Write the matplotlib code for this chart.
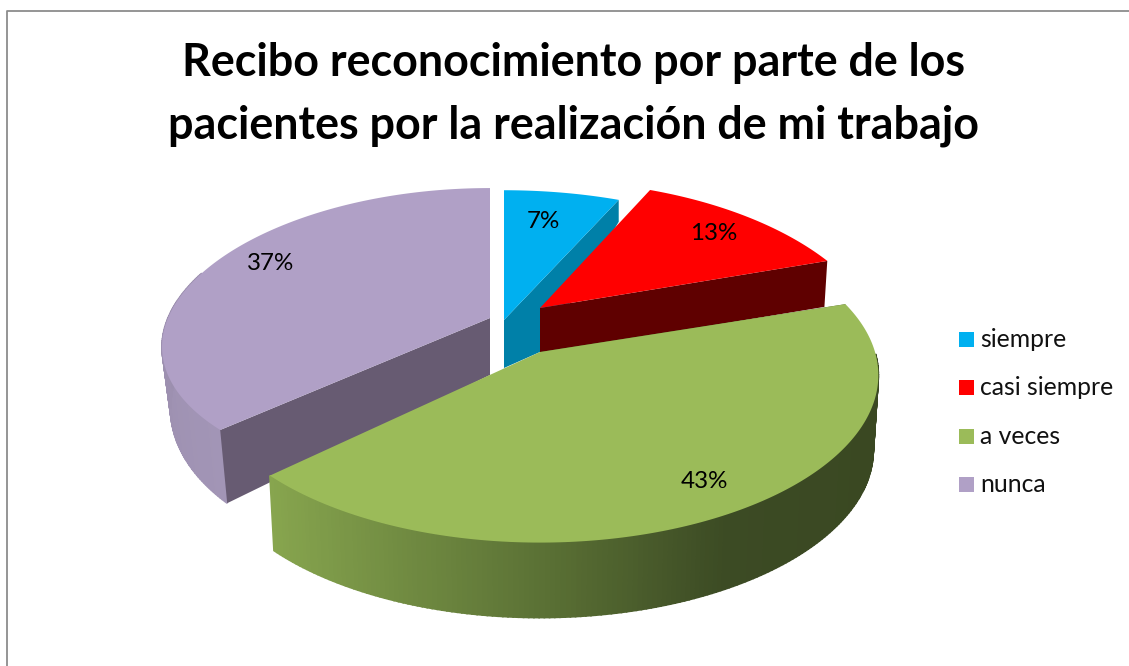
import numpy as np
import matplotlib
matplotlib.use('Agg')
import matplotlib.pyplot as plt
from matplotlib.colors import LinearSegmentedColormap
from matplotlib.patches import Polygon, Rectangle

categories = ['siempre', 'casi siempre', 'a veces', 'nunca']
values = [7, 13, 43, 37]
labels = ['7%', '13%', '43%', '37%']
colors = ['#00B0F0', '#FF0000', '#9BBB59', '#B0A0C6']
cut_colors = ['#0080A8', '#5F0000', '#4A5A2A', '#675B72']
# where each percent label sits, in pixels
label_pos = [(543, 221), (714, 232), (704, 480), (271, 262)]
# exploded slices: centre x, centre y, rx, ry, perspective x/y, depth, bottom scale x/y
slices = [
    (504, 320, 345, 170, 0.31, 0.31, 48, 1.0, 1.217),
    (540, 308, 331, 167, 0.31, 0.31, 46, 0.99, 1.0),
    (540, 352, 335, 162, 0.14, 0.15, 75, 0.985, 1.0),
    (490, 318, 322, 148, 0.19, 0.139, 57, 0.974, 1.145),
]

plt.rcParams['font.family'] = ['Lato', 'DejaVu Sans']

green_wall = LinearSegmentedColormap.from_list('g', ['#87A54E', '#6E8840', '#566B32', '#3C4B24', '#3A4822'])
purple_wall = LinearSegmentedColormap.from_list('p', ['#A295B6', '#8F829F'])


def top_edge(s, t):
    cx, cy, rx, ry, kx, ky = s[:6]
    X, Y = np.sin(t), np.cos(t)
    return cx + rx * X / (1 + kx * Y), cy - ry * Y / (1 + ky * Y)


def bottom_edge(s, t):
    x, y = top_edge(s, t)
    return s[0] + s[7] * (x - s[0]), s[1] + s[8] * (y - s[1]) + s[6]


fig = plt.figure(figsize=(11.29, 6.66), dpi=100)
ax = fig.add_axes([0, 0, 1, 1])
ax.set_xlim(0, 1129)
ax.set_ylim(666, 0)
ax.axis('off')

ax.plot([7, 7, 1129], [666, 11, 11], color='#8C8C8C', lw=1.3)

edges = np.cumsum([0] + values) / sum(values) * 2 * np.pi
for i in [3, 0, 1, 2]:
    s = slices[i]
    t = np.linspace(edges[i], edges[i + 1], 200)
    tx, ty = top_edge(s, t)
    bx, by = bottom_edge(s, t)
    if i in (2, 3):
        cmap = green_wall if i == 2 else purple_wall
        for j in range(len(t) - 1):
            # back part of the rim is hidden by the top face
            if i == 2 and t[j] < np.pi / 2:
                continue
            if i == 3 and t[j] > 1.6 * np.pi:
                continue
            frac = (tx[j] - tx.min()) / (tx.max() - tx.min()) if i == 2 else (t[j] - t[0]) / (t[-1] - t[0])
            ax.add_patch(Polygon([(tx[j], ty[j]), (tx[j + 1], ty[j + 1]), (bx[j + 1], by[j + 1]), (bx[j], by[j])],
                                 fc=cmap(frac), ec=cmap(frac), lw=1.2))
    # the cut face that looks toward the viewer
    k = -1 if i in (0, 1) else 0
    apex_low = (s[0], s[1] + s[6])
    cut = [(s[0], s[1]), (tx[k], ty[k]), (bx[k], by[k]), apex_low]
    if i == 0:
        # blue's cut runs on behind the red slice
        cut.insert(3, (slices[1][0], slices[1][1] + 44))
    ax.add_patch(Polygon(cut, fc=cut_colors[i], ec='none'))
    ax.add_patch(Polygon(np.vstack([[s[0], s[1]], np.column_stack([tx, ty])]), fc=colors[i], ec='none'))

for lab, (x, y) in zip(labels, label_pos):
    ax.text(x, y + 1, lab, fontsize=17.4, ha='center', va='center', color='black')

legend_y = [339.5, 387.5, 436.5, 484.5]
for cat, c, y in zip(categories, colors, legend_y):
    ax.add_patch(Rectangle((959, y - 7.5), 15, 15, fc=c, ec='none'))
    ax.text(980, y, cat, fontsize=17.8, ha='left', va='center', color='#111111')

ax.text(574, 63, 'Recibo reconocimiento por parte de los', fontsize=32.3, fontweight='bold', ha='center', va='center')
ax.text(574, 126, 'pacientes por la realización de mi trabajo', fontsize=32.3, fontweight='bold', ha='center', va='center')

fig.savefig('out.png', dpi=100)
